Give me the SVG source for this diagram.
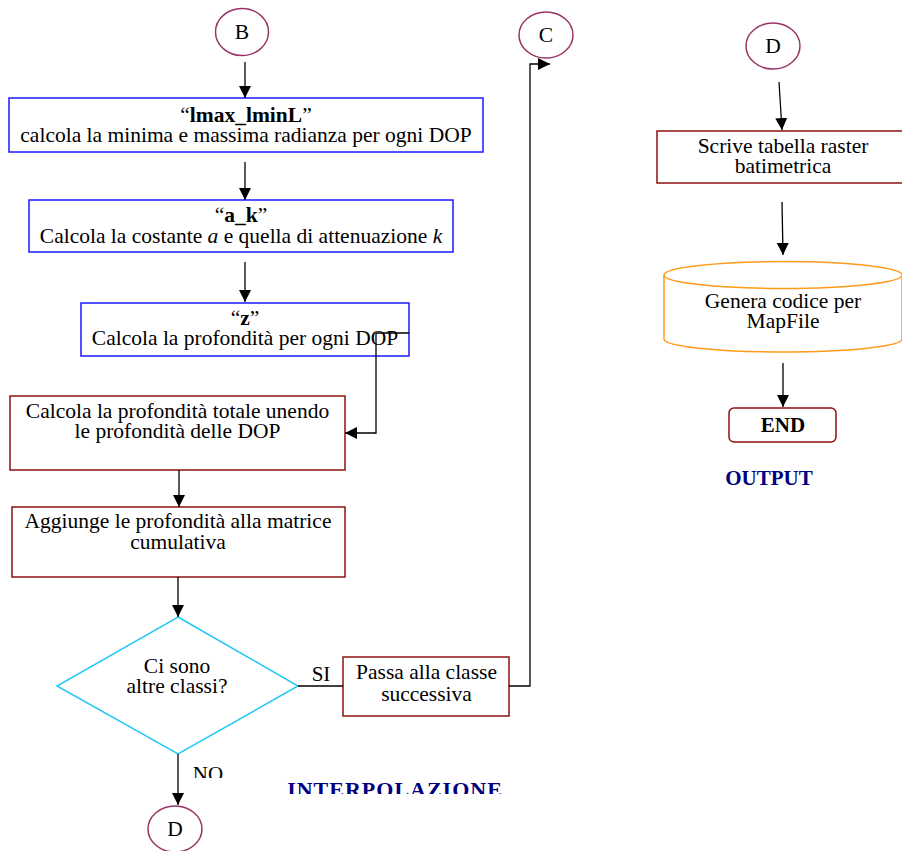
<svg xmlns="http://www.w3.org/2000/svg" width="902" height="851" viewBox="0 0 902 851">
<style>
text{font-family:"Liberation Serif","Times New Roman",serif;font-size:21.5px;fill:#000;text-anchor:middle}
.b{font-weight:bold}
.i{font-style:italic}
.blue{fill:#fff;stroke:#1a1aff;stroke-width:1.5}
.red{fill:#fff;stroke:#8b1010;stroke-width:1.5}
.circ{fill:#fff;stroke:#993366;stroke-width:1.5}
.cyan{fill:#fff;stroke:#22c8f5;stroke-width:1.5}
.orange{fill:#fff;stroke:#ff9a1a;stroke-width:1.5}
.navy{fill:#000080;font-weight:bold}
.conn path,.conn line{stroke:#000;stroke-width:1.3;fill:none}
.arr{marker-end:url(#ah)}
</style>
<defs>
<marker id="ah" markerUnits="userSpaceOnUse" markerWidth="12" markerHeight="12" refX="12" refY="6" orient="auto" viewBox="0 0 12 12">
<path d="M0,0 L12,6 L0,12 z" fill="#000"/>
</marker>
<clipPath id="clipNO"><rect x="180" y="750" width="60" height="28"/></clipPath>
<clipPath id="clipIN"><rect x="270" y="770" width="260" height="24"/></clipPath>
</defs>
<rect width="902" height="851" fill="#fff"/>

<g id="nodeB"><ellipse class="circ" cx="242" cy="32" rx="26.5" ry="23.5"/><text x="242" y="39">B</text></g>
<g id="box1"><rect class="blue" x="9" y="98" width="474" height="54"/>
<text x="246" y="122">“<tspan class="b">lmax_lminL</tspan>”</text>
<text x="246" y="142">calcola la minima e massima radianza per ogni DOP</text></g>
<g id="box2"><rect class="blue" x="29" y="200" width="424" height="52"/>
<text x="241" y="222">“<tspan class="b">a_k</tspan>”</text>
<text x="241" y="243">Calcola la costante <tspan class="i">a</tspan> e quella di attenuazione <tspan class="i">k</tspan></text></g>
<g id="box3"><rect class="blue" x="81" y="303" width="328" height="53"/>
<text x="245" y="325">“<tspan class="b">z</tspan>”</text>
<text x="245" y="345">Calcola la profondità per ogni DOP</text></g>
<g id="box4"><rect class="red" x="10" y="396" width="335" height="74"/>
<text x="177.5" y="418">Calcola la profondità totale unendo</text>
<text x="177.5" y="438">le profondità delle DOP</text></g>
<g id="box5"><rect class="red" x="12" y="507" width="333" height="70"/>
<text x="178" y="528">Aggiunge le profondità alla matrice</text>
<text x="178" y="549">cumulativa</text></g>
<g id="decision"><path class="cyan" d="M178,617 L298,686 L178,754 L57,686 Z"/>
<text x="177" y="673">Ci sono</text>
<text x="177" y="693">altre classi?</text></g>
<g id="box6"><rect class="red" x="343" y="657" width="166" height="59"/>
<text x="426.5" y="679">Passa alla classe</text>
<text x="426.5" y="701">successiva</text></g>
<g id="nodeD1"><ellipse class="circ" cx="175" cy="829" rx="27" ry="23"/><text x="175" y="836">D</text></g>
<g id="nodeC"><ellipse class="circ" cx="546" cy="35" rx="27" ry="23"/><text x="546" y="42">C</text></g>
<g id="nodeD2"><ellipse class="circ" cx="773" cy="46" rx="27" ry="23"/><text x="773" y="53">D</text></g>
<g id="box7"><rect class="red" x="657" y="131" width="255" height="52"/>
<text x="783" y="153">Scrive tabella raster</text>
<text x="783" y="173">batimetrica</text></g>
<g id="cyl"><path class="orange" d="M664,275 L664,339 A119,13 0 0 0 902,339 L902,275"/>
<ellipse class="orange" cx="783" cy="275" rx="119" ry="13.5"/>
<text x="783" y="308">Genera codice per</text>
<text x="783" y="328">MapFile</text></g>
<g id="end"><rect class="red" x="729" y="408" width="107" height="34" rx="5"/>
<text class="b" x="783" y="432" style="font-size:21px">END</text></g>

<g id="labels">
<text x="208" y="781" style="font-size:21px" clip-path="url(#clipNO)">NO</text>
<text x="321" y="681" style="font-size:21px">SI</text>
<text class="navy" x="395" y="797" style="font-size:22px;letter-spacing:1px" clip-path="url(#clipIN)">INTERPOLAZIONE</text>
<text class="navy" x="769" y="485" style="font-size:21px">OUTPUT</text>
</g>

<g class="conn" id="connectors">
<line class="arr" x1="245" y1="62" x2="245" y2="98"/>
<line class="arr" x1="245" y1="162" x2="245" y2="200"/>
<line class="arr" x1="245" y1="262" x2="245" y2="302"/>
<path class="arr" d="M409,333 H376 V433 H345"/>
<line class="arr" x1="179" y1="470" x2="179" y2="507"/>
<line class="arr" x1="178" y1="577" x2="178" y2="617"/>
<line class="arr" x1="178" y1="754" x2="178" y2="805"/>
<line x1="298" y1="686" x2="343" y2="686"/>
<path class="arr" d="M509,686 H530 V64 H550"/>
<line class="arr" x1="779" y1="82" x2="782" y2="130"/>
<line class="arr" x1="782" y1="202" x2="783" y2="255"/>
<line class="arr" x1="783" y1="363" x2="783" y2="407"/>
</g>
</svg>
